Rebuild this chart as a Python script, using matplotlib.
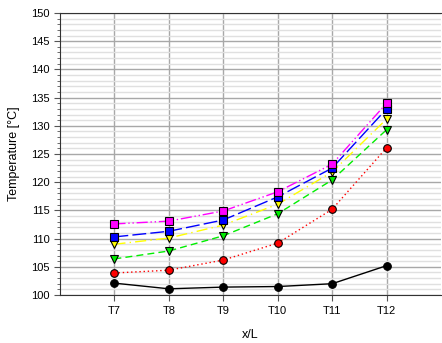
import matplotlib.pyplot as plt
from matplotlib.ticker import MultipleLocator

plt.rcParams['font.family'] = ['Liberation Sans', 'DejaVu Sans']

positions = ["T7", "T8", "T9", "T10", "T11", "T12"]
x_idx = [7, 8, 9, 10, 11, 12]

s_black = [102.1, 101.1, 101.4, 101.5, 102.0, 105.2]
s_red = [103.9, 104.4, 106.2, 109.2, 115.2, 126.1]
s_green = [106.4, 107.8, 110.5, 114.4, 120.4, 129.3]
s_yellow = [109.0, 110.1, 112.4, 116.1, 121.8, 131.2]
s_blue = [110.3, 111.3, 113.3, 117.4, 122.5, 133.0]
s_magenta = [112.6, 113.1, 114.9, 118.3, 123.2, 134.0]

fig = plt.figure(figsize=(4.42, 3.43), dpi=100)
ax = fig.add_axes([60 / 442, 48 / 343, 381 / 442, 282 / 343])

styles = [
    (s_black, 'black', '-', 'o'),
    (s_red, 'red', (0, (1, 2)), 'o'),
    (s_green, '#00ee00', (0, (5, 3)), 'v'),
    (s_yellow, 'yellow', (0, (8, 3, 1, 3)), 'v'),
    (s_blue, 'blue', (0, (10, 3)), 's'),
    (s_magenta, 'magenta', (0, (8, 2, 1, 2, 1, 2)), 's'),
]
for vals, col, ls, mk in styles:
    ax.plot(x_idx, vals, color=col, linestyle=ls, linewidth=1,
            marker=mk, markersize=5.5, markerfacecolor=col,
            markeredgecolor='black', markeredgewidth=0.8, zorder=3)

ax.set_xlim(6, 13)
ax.set_ylim(100, 150)
ax.set_xticks(x_idx)
ax.set_xticklabels(positions)
ax.yaxis.set_major_locator(MultipleLocator(5))
ax.yaxis.set_minor_locator(MultipleLocator(1))

ax.grid(which='major', axis='y', color='#a8a8a8', linewidth=1)
ax.grid(which='minor', axis='y', color='#e0e0e0', linewidth=1)
ax.grid(which='major', axis='x', color='#a8a8a8', linewidth=1)
ax.set_axisbelow(True)

ax.tick_params(axis='both', which='major', labelsize=8, direction='out', length=4, color='#555555')
ax.tick_params(axis='x', which='major', pad=4)
ax.tick_params(axis='y', which='minor', direction='out', length=2, color='#555555')
ax.spines['right'].set_visible(False)
for sp in ['top', 'left', 'bottom']:
    ax.spines[sp].set_color('#333333')

ax.set_xlabel("x/L", fontsize=9, labelpad=9)
ax.set_ylabel("Temperature [°C]", fontsize=9, labelpad=8)

fig.savefig("out.png", dpi=100)
